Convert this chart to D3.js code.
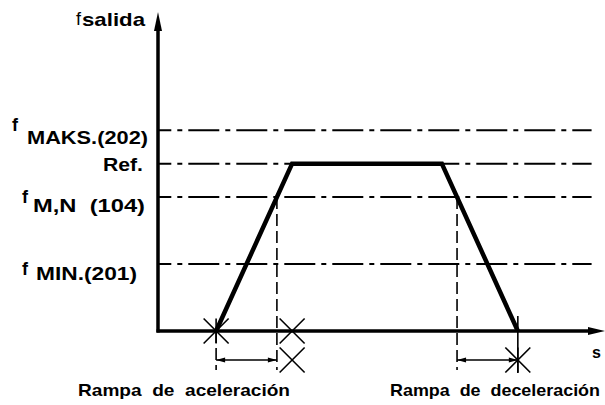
<!DOCTYPE html>
<html>
<head>
<meta charset="utf-8">
<script src="https://cdn.jsdelivr.net/npm/d3@7"></script>
<style>
  html, body { margin: 0; padding: 0; background: #fff; }
  svg { display: block; }
  text { font-family: "Liberation Sans", Arial, sans-serif; fill: #000; white-space: pre; }
</style>
</head>
<body>
<div id="chart"></div>
<script>
// ---- data ----
const levelPrefixes = ["f", "f", "", "f"];
const levelNames = ["MIN.(201)", "M,N  (104)", "Ref.", "MAKS.(202)"];
const levelValues = [2, 4, 5, 6];
const profileTimes = [13, 30, 63.5, 80.5];
const profileValues = [0, 5, 5, 0];
const rampLabels = ["Rampa  de  aceleración", "Rampa  de  deceleración"];
const axisTitles = ["salida", "s"];

// ---- layout ----
const W = 605, H = 405;
const x = d3.scaleLinear().domain([0, 100]).range([158, 605]);
const y = d3.scaleLinear().domain([0, 9.5]).range([331, 13]);

const svg = d3.select("#chart").append("svg").attr("width", W).attr("height", H);

// horizontal dash-dot reference lines
svg.append("g").selectAll("line").data(levelValues).join("line")
  .attr("x1", x(0)).attr("x2", x(97))
  .attr("y1", d => y(d)).attr("y2", d => y(d))
  .attr("stroke", "#000").attr("stroke-width", 2)
  .attr("stroke-dasharray", "31,6,5,6").attr("stroke-dashoffset", 17.7);

// level labels
const lbl = svg.append("g");
const labelPos = [
  { fx: 22, fy: 275, tx: 36, ty: 280, tl: 101 },
  { fx: 22, fy: 203, tx: 33, ty: 212, tl: 112 },
  { fx: 0, fy: 0, tx: 103, ty: 171, tl: 40 },
  { fx: 12, fy: 131, tx: 27, ty: 144, tl: 121 }
];
levelNames.forEach((n, i) => {
  const p = labelPos[i];
  if (levelPrefixes[i]) {
    lbl.append("text").attr("x", p.fx).attr("y", p.fy)
      .attr("font-size", 18).attr("font-weight", "bold").text(levelPrefixes[i]);
  }
  lbl.append("text").attr("x", p.tx).attr("y", p.ty)
    .attr("font-size", 18).attr("font-weight", "bold")
    .attr("textLength", p.tl).attr("lengthAdjust", "spacingAndGlyphs")
    .text(n);
});

// axes
const axisW = 3.5;
svg.append("line").attr("x1", x(0)).attr("x2", x(0))
  .attr("y1", y(0) + 1.5).attr("y2", y(9.5) + 10)
  .attr("stroke", "#000").attr("stroke-width", axisW);
svg.append("path")
  .attr("d", `M${x(0)},${y(9.5) - 1} L${x(0) - 4},${y(9.5) + 18} L${x(0) + 4},${y(9.5) + 18}Z`)
  .attr("fill", "#000");
svg.append("line").attr("x1", x(0) - 1.5).attr("x2", x(100) - 10)
  .attr("y1", y(0)).attr("y2", y(0))
  .attr("stroke", "#000").attr("stroke-width", axisW);
svg.append("path")
  .attr("d", `M${x(100)},${y(0)} L${x(100) - 17},${y(0) - 4} L${x(100) - 17},${y(0) + 4}Z`)
  .attr("fill", "#000");

// axis titles
svg.append("text").attr("x", 76).attr("y", 25).attr("font-size", 18).text("f");
svg.append("text").attr("x", 82).attr("y", 26).attr("font-size", 19).attr("font-weight", "bold")
  .attr("textLength", 63).attr("lengthAdjust", "spacingAndGlyphs").text(axisTitles[0]);
svg.append("text").attr("x", 592).attr("y", 358).attr("font-size", 16).attr("font-weight", "bold")
  .text(axisTitles[1]);

// crossing times of the ramps with the f M,N level
const mn = levelValues[1];
const tUp = profileTimes[0] + (mn - profileValues[0]) / (profileValues[1] - profileValues[0]) * (profileTimes[1] - profileTimes[0]);
const tDown = profileTimes[2] + (mn - profileValues[2]) / (profileValues[3] - profileValues[2]) * (profileTimes[3] - profileTimes[2]);

const dimY = 360;
const extBottom = 370;
// dashed extension lines
const ext = [
  { t: tUp, y1: y(mn) },
  { t: tDown, y1: y(mn) },
  { t: profileTimes[0], y1: y(0) }
];
svg.append("g").selectAll("line").data(ext).join("line")
  .attr("x1", d => x(d.t)).attr("x2", d => x(d.t))
  .attr("y1", d => d.y1).attr("y2", extBottom)
  .attr("stroke", "#000").attr("stroke-width", 1.6)
  .attr("stroke-dasharray", "12,5");
// solid extension at end of deceleration
svg.append("line").attr("x1", x(profileTimes[3])).attr("x2", x(profileTimes[3]))
  .attr("y1", y(0) - 15).attr("y2", 373)
  .attr("stroke", "#000").attr("stroke-width", 1.6);

// profile (trapezoid)
const prof = profileTimes.map((t, i) => [x(t), y(profileValues[i])]);
svg.append("path").attr("d", d3.line()(prof))
  .attr("fill", "none").attr("stroke", "#000").attr("stroke-width", 4.5)
  .attr("stroke-linejoin", "miter");

// X marks
const xs = 12.5;
function cross(cx, cy, vert) {
  const g = svg.append("g").attr("stroke", "#000").attr("stroke-width", 1.6);
  g.append("line").attr("x1", cx - xs).attr("y1", cy - xs).attr("x2", cx + xs).attr("y2", cy + xs);
  g.append("line").attr("x1", cx - xs).attr("y1", cy + xs).attr("x2", cx + xs).attr("y2", cy - xs);
  if (vert) g.append("line").attr("x1", cx).attr("y1", cy - xs).attr("x2", cx).attr("y2", cy + xs);
}
cross(x(profileTimes[0]), y(0), true);
cross(x(profileTimes[1]), y(0), false);
cross(x(profileTimes[1]), dimY, false);
cross(x(profileTimes[3]), dimY, true);

// dimension arrows
function dim(xa, xb) {
  svg.append("line").attr("x1", xa).attr("x2", xb).attr("y1", dimY).attr("y2", dimY)
    .attr("stroke", "#000").attr("stroke-width", 1.6);
  svg.append("path").attr("d", `M${xa},${dimY} L${xa + 9},${dimY - 2.5} L${xa + 9},${dimY + 2.5}Z`).attr("fill", "#000");
  svg.append("path").attr("d", `M${xb},${dimY} L${xb - 9},${dimY - 2.5} L${xb - 9},${dimY + 2.5}Z`).attr("fill", "#000");
}
dim(x(profileTimes[0]), x(tUp));
dim(x(tDown), x(profileTimes[3]));

// ramp labels
const rampPos = [{ x: 78, w: 212 }, { x: 390, w: 210 }];
rampLabels.forEach((s, i) => {
  svg.append("text").attr("x", rampPos[i].x).attr("y", 396)
    .attr("font-size", 17).attr("font-weight", "bold")
    .attr("textLength", rampPos[i].w).attr("lengthAdjust", "spacingAndGlyphs")
    .text(s);
});
</script>
</body>
</html>
